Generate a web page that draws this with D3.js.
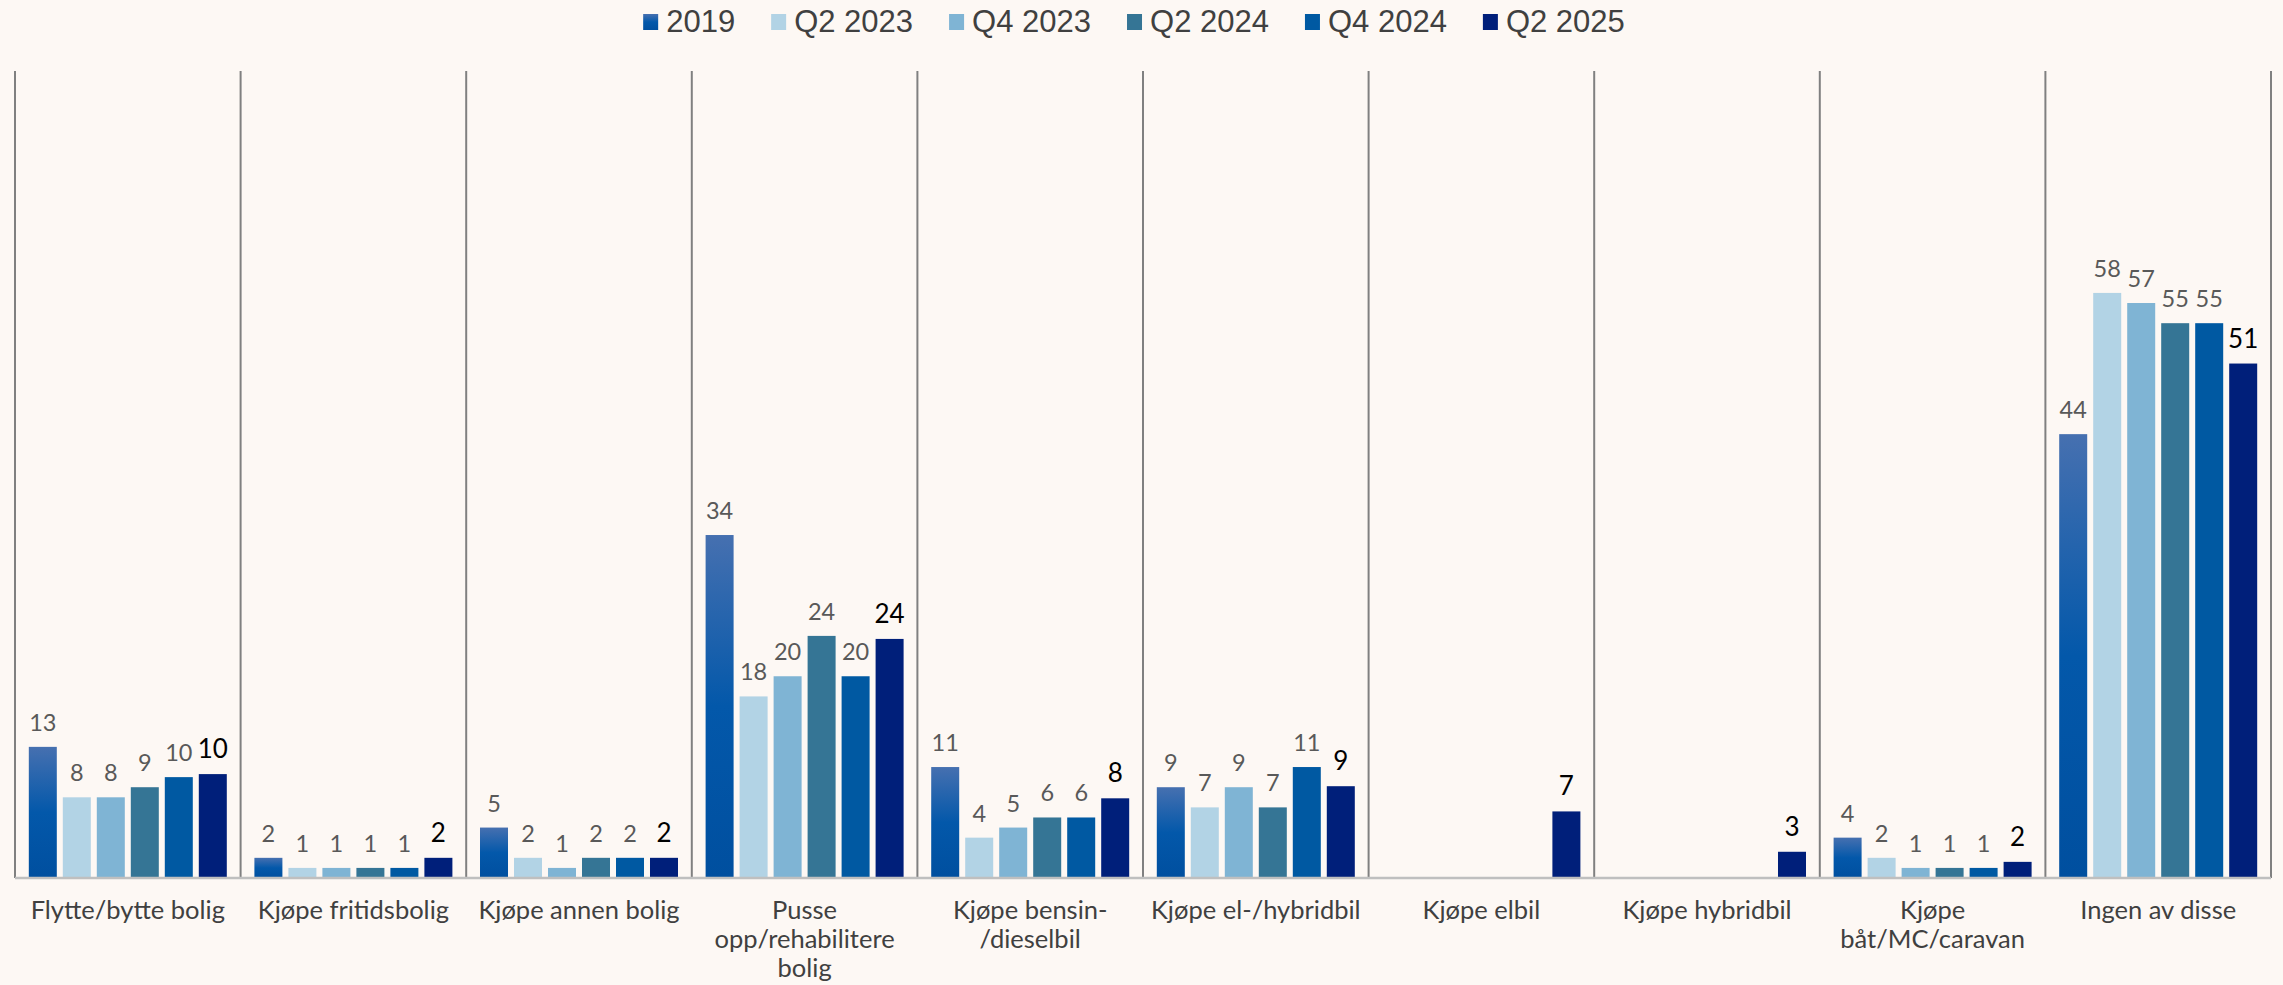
<!DOCTYPE html>
<html>
<head>
<meta charset="utf-8">
<script src="https://cdn.jsdelivr.net/npm/d3@7"></script>
<style>
  body { margin: 0; background: #fdf8f4; }
  svg { display: block; }
</style>
</head>
<body>
<div id="chart-area"></div>
<script>
// categories (line breaks as in the original)
var categories = [
  "Flytte/bytte bolig", "Kjøpe fritidsbolig", "Kjøpe annen bolig",
  "Pusse|opp/rehabilitere|bolig", "Kjøpe bensin-|/dieselbil", "Kjøpe el-/hybridbil",
  "Kjøpe elbil", "Kjøpe hybridbil", "Kjøpe|båt/MC/caravan", "Ingen av disse"
];
var seriesNames = ["2019", "Q2 2023", "Q4 2023", "Q2 2024", "Q4 2024", "Q2 2025"];

var v2019   = [13, 2, 5, 34, 11, 9, null, null, 4, 44];
var vQ22023 = [8, 1, 2, 18, 4, 7, null, null, 2, 58];
var vQ42023 = [8, 1, 1, 20, 5, 9, null, null, 1, 57];
var vQ22024 = [9, 1, 2, 24, 6, 7, null, null, 1, 55];
var vQ42024 = [10, 1, 2, 20, 6, 11, null, null, 1, 55];
var vQ22025 = [10.3, 2.0, 2.0, 23.7, 7.9, 9.1, 6.6, 2.6, 1.6, 51.0];

var seriesValues = [v2019, vQ22023, vQ42023, vQ22024, vQ42024, vQ22025];
var colors = ["url(#grad2019)", "#b2d3e5", "#7fb4d4", "#357595", "#0059a2", "#001f7a"];

var W = 2283, H = 985;
var svg = d3.select("#chart-area").append("svg")
    .attr("width", W)
    .attr("height", H);

var defs = svg.append("defs");
var grad = defs.append("linearGradient")
    .attr("id", "grad2019")
    .attr("x1", 0).attr("y1", 0).attr("x2", 0).attr("y2", 1);
grad.append("stop").attr("offset", "0%").attr("stop-color", "#4670b0");
grad.append("stop").attr("offset", "50%").attr("stop-color", "#0358aa");
grad.append("stop").attr("offset", "100%").attr("stop-color", "#004f9f");

var x0 = d3.scaleBand()
    .domain(categories)
    .range([15, 2271])
    .paddingInner(0)
    .paddingOuter(0);

var x1 = d3.scaleBand()
    .domain(seriesNames)
    .range([0, x0.bandwidth()])
    .paddingInner(6 / 34)
    .paddingOuter(0.406);

var y = d3.scaleLinear()
    .domain([0, 80])
    .range([878, 71]);

// category separators
svg.selectAll(".sep")
    .data(d3.range(categories.length + 1))
    .enter().append("line")
    .attr("x1", (i) => 15 + i * x0.step())
    .attr("x2", (i) => 15 + i * x0.step())
    .attr("y1", y(80))
    .attr("y2", y(0))
    .attr("stroke", "#808080")
    .attr("stroke-width", 2);

// data
var rows = [];
categories.forEach((c, ci) => {
  seriesNames.forEach((s, si) => {
    var v = seriesValues[si][ci];
    if (v != null) rows.push({ cat: c, series: s, si: si, value: v });
  });
});

var groups = svg.append("g");
groups.selectAll("rect")
    .data(rows)
    .enter().append("rect")
    .attr("x", (d) => x0(d.cat) + x1(d.series))
    .attr("y", (d) => y(d.value))
    .attr("width", x1.bandwidth())
    .attr("height", (d) => y(0) - y(d.value))
    .attr("fill", (d) => colors[d.si]);

groups.selectAll("text")
    .data(rows)
    .enter().append("text")
    .attr("x", (d) => x0(d.cat) + x1(d.series) + x1.bandwidth() / 2)
    .attr("y", (d) => y(d.value) - 16)
    .attr("text-anchor", "middle")
    .style("font-family", "Lato, 'Open Sans', sans-serif")
    .style("font-size", (d) => d.si == 5 ? "26px" : "23.5px")
    .attr("fill", (d) => d.si == 5 ? "#000000" : "#595959")
    .text((d) => d3.format(".0f")(d.value));

// baseline
svg.append("line")
    .attr("x1", 15).attr("x2", 2271)
    .attr("y1", y(0)).attr("y2", y(0))
    .attr("stroke", "#bfbfbf")
    .attr("stroke-width", 2.5);

// category labels
var labels = svg.append("g").selectAll("text")
    .data(categories)
    .enter().append("text")
    .attr("x", (d) => x0(d) + x0.bandwidth() / 2)
    .attr("y", 919)
    .attr("text-anchor", "middle")
    .style("font-family", "Lato, 'Open Sans', sans-serif")
    .style("font-size", "25.5px")
    .attr("fill", "#404040");
labels.each(function(d) {
  var t = d3.select(this);
  d.split("|").forEach((line, i) => {
    t.append("tspan")
      .attr("x", x0(d) + x0.bandwidth() / 2)
      .attr("dy", i == 0 ? 0 : 29)
      .text(line);
  });
});

// legend
var legend = svg.append("g");
var lx = 0;
seriesNames.forEach((s, i) => {
  var item = legend.append("g").attr("transform", "translate(" + lx + ",0)");
  item.append("rect")
      .attr("x", 0).attr("y", 14)
      .attr("width", 15).attr("height", 16)
      .attr("fill", colors[i]);
  var t = item.append("text")
      .attr("x", 23).attr("y", 32)
      .style("font-family", "'Liberation Sans', Arial, sans-serif")
      .style("font-size", "31px")
      .attr("fill", "#404040")
      .text(s);
  lx += 23 + t.node().getComputedTextLength() + 36;
});
lx -= 36;
legend.attr("transform", "translate(" + (1134 - lx / 2) + ",0)");
</script>
</body>
</html>
